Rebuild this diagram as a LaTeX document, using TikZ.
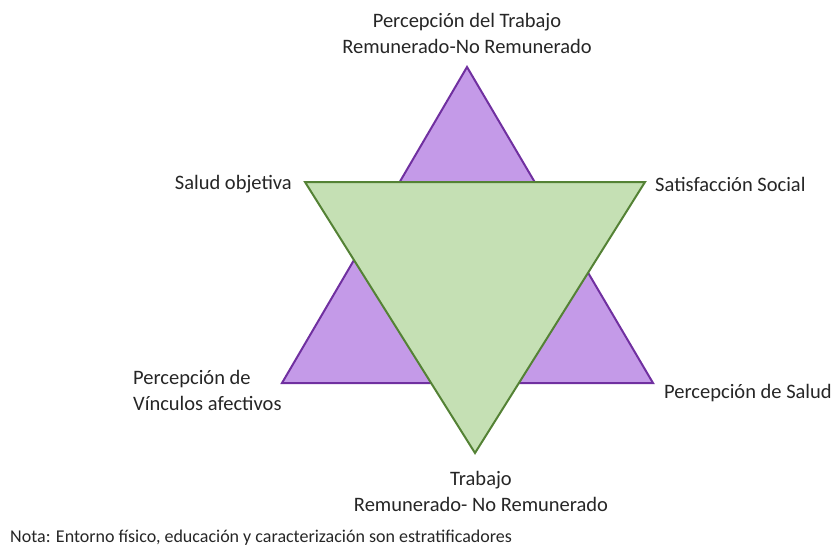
\documentclass[tikz,border=0pt]{standalone}
\usepackage{fontspec}
\setmainfont{Carlito}
\usetikzlibrary{positioning,calc}

\definecolor{lila}{HTML}{C49AE8}
\definecolor{lilaborde}{HTML}{7030A0}
\definecolor{verde}{HTML}{C5E0B4}
\definecolor{verdeborde}{HTML}{548235}
\definecolor{texto}{HTML}{262626}

\begin{document}
\begin{tikzpicture}[x=1pt,y=-1pt,
    etiqueta/.style={text=texto, font=\fontsize{20.5}{26}\selectfont, inner sep=0pt},
    ]
    \useasboundingbox (0,0) rectangle (835,547);

    % Triangulo morado
    \coordinate (pA) at (467,67);
    \coordinate (pB) at (282,383);
    \coordinate (pC) at (653,383);
    \draw[lilaborde, fill=lila, line width=2pt, line join=miter] (pA) -- (pB) -- (pC) -- cycle;

    % Triangulo verde
    \coordinate (vA) at (305,182);
    \coordinate (vB) at (645,182);
    \coordinate (vC) at (475,453);
    \draw[verdeborde, fill=verde, line width=2pt, line join=miter] (vA) -- (vB) -- (vC) -- cycle;

    % Etiquetas
    \node[etiqueta, align=center] (percTrab) at (467,33) {Percepción del Trabajo\\Remunerado-No Remunerado};
    \node[etiqueta, anchor=east] (saludObj) at (292,184) {Salud objetiva};
    \node[etiqueta, anchor=west] (satSoc) at (655,184) {Satisfacción Social};
    \node[etiqueta, anchor=west, align=left] (vinculos) at (133,390) {Percepción de\\Vínculos afectivos};
    \node[etiqueta, anchor=west] (percSalud) at (664,393) {Percepción de Salud};
    \node[etiqueta, align=center] (trabajo) at (481,491) {Trabajo\\Remunerado- No Remunerado};
    \node[etiqueta, anchor=west, font=\fontsize{18}{22}\selectfont] (nota) at (10,538) {Nota: Entorno físico, educación y caracterización son estratificadores};
\end{tikzpicture}
\end{document}
